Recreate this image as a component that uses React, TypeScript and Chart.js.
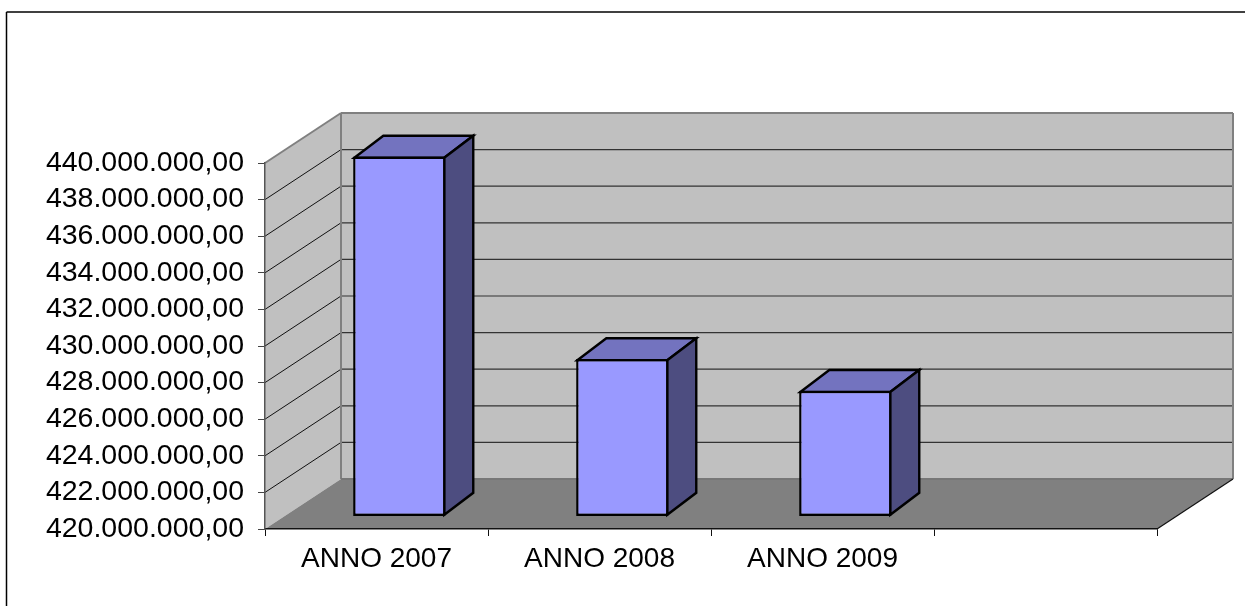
import React, { useEffect, useRef } from "react";
import { Chart, registerables } from "chart.js";

Chart.register(...registerables);

const categories = ["ANNO 2007", "ANNO 2008", "ANNO 2009", ""];
const seriesValues = [439670000, 428600000, 426870000, null];
const yMin = 420000000;
const yMax = 440000000;
const yStep = 2000000;

const WALL_DX = 76;
const WALL_DY = 50;
const BAR_SHIFT_X = 22.8;
const BAR_SHIFT_Y = 12.5;
const BAR_DX = 29;
const BAR_DY = 22;
const BAR_LINE = 2.4;

const formatEuro = (v: number) => {
  const [intPart, dec] = v.toFixed(2).split(".");
  return intPart.replace(/\B(?=(\d{3})+(?!\d))/g, ".") + "," + dec;
};

const poly = (ctx: CanvasRenderingContext2D, pts: number[][], fill?: string, stroke?: string, lw = 1) => {
  ctx.beginPath();
  pts.forEach(([x, y], i) => (i ? ctx.lineTo(x, y) : ctx.moveTo(x, y)));
  ctx.closePath();
  if (fill) {
    ctx.fillStyle = fill;
    ctx.fill();
  }
  if (stroke) {
    ctx.strokeStyle = stroke;
    ctx.lineWidth = lw;
    ctx.lineJoin = "miter";
    ctx.stroke();
  }
};

const line = (ctx: CanvasRenderingContext2D, x1: number, y1: number, x2: number, y2: number, c: string, lw = 1) => {
  ctx.beginPath();
  ctx.moveTo(x1, y1);
  ctx.lineTo(x2, y2);
  ctx.strokeStyle = c;
  ctx.lineWidth = lw;
  ctx.stroke();
};

const scene3d = {
  id: "scene3d",
  beforeDraw(chart: any) {
    const { ctx, chartArea: a, scales } = chart;
    const { left: l, right: r, top: t, bottom: b } = a;
    ctx.save();
    // outer frame: only top and left edges fall inside the picture
    line(ctx, 6.5, 12, 1245, 12, "#000", 1.5);
    line(ctx, 6.5, 12, 6.5, 606, "#000", 1.5);
    // walls and floor
    poly(ctx, [[l, t], [l + WALL_DX, t - WALL_DY], [l + WALL_DX, b - WALL_DY], [l, b]], "#C0C0C0");
    poly(ctx, [[l + WALL_DX, t - WALL_DY], [r + WALL_DX, t - WALL_DY], [r + WALL_DX, b - WALL_DY], [l + WALL_DX, b - WALL_DY]], "#C0C0C0");
    poly(ctx, [[l, b], [l + WALL_DX, b - WALL_DY], [r + WALL_DX, b - WALL_DY], [r, b]], "#808080");
    // grid lines on the walls
    scales.y.ticks.forEach((tick: any) => {
      if (tick.value === yMin || tick.value === yMax) return;
      const y = scales.y.getPixelForValue(tick.value);
      line(ctx, l, y, l + WALL_DX, y - WALL_DY, "#111", 1);
      line(ctx, l + WALL_DX, y - WALL_DY, r + WALL_DX, y - WALL_DY, "#333", 1.2);
    });
    // wall edges
    line(ctx, l, t, l + WALL_DX, t - WALL_DY, "#808080", 2);
    line(ctx, l + WALL_DX, t - WALL_DY, r + WALL_DX, t - WALL_DY, "#808080", 2);
    line(ctx, l + WALL_DX, t - WALL_DY, l + WALL_DX, b - WALL_DY, "#808080", 2);
    line(ctx, r + WALL_DX, t - WALL_DY, r + WALL_DX, b - WALL_DY, "#808080", 2);
    line(ctx, l + WALL_DX, b - WALL_DY, r + WALL_DX, b - WALL_DY, "#777", 2);
    line(ctx, r, b, r + WALL_DX, b - WALL_DY, "#111", 1.2);
    ctx.restore();
  },
  beforeDatasetDraw(chart: any) {
    const { ctx } = chart;
    ctx.save();
    ctx.translate(BAR_SHIFT_X, -BAR_SHIFT_Y);
    // top and side of each bar go behind its front face
    chart.getDatasetMeta(0).data.forEach((bar: any, i: number) => {
      if (seriesValues[i] == null) return;
      const p = bar.getProps(["x", "y", "base", "width"], true);
      const inset = BAR_LINE / 2;
      const x0 = p.x - p.width / 2 + inset;
      const x1 = p.x + p.width / 2 - inset;
      const top = p.y + inset;
      const bottom = p.base - inset;
      poly(ctx, [[x0, top], [x0 + BAR_DX, top - BAR_DY], [x1 + BAR_DX, top - BAR_DY], [x1, top]], "#7373BF", "#000", BAR_LINE);
      poly(ctx, [[x1, top], [x1 + BAR_DX, top - BAR_DY], [x1 + BAR_DX, bottom - BAR_DY], [x1, bottom]], "#4D4D80", "#000", BAR_LINE);
    });
  },
  afterDatasetDraw(chart: any) {
    chart.ctx.restore();
  },
};

export default function App() {
  const ref = useRef<HTMLCanvasElement>(null);
  useEffect(() => {
    const chart = new Chart(ref.current as HTMLCanvasElement, {
      type: "bar",
      data: {
        labels: categories,
        datasets: [
          {
            data: seriesValues as number[],
            base: yMin,
            clip: false,
            backgroundColor: "#9999FF",
            borderColor: "#000",
            borderWidth: BAR_LINE,
            borderSkipped: false,
            barPercentage: 0.414,
            categoryPercentage: 1,
          },
        ],
      },
      plugins: [scene3d],
      options: {
        responsive: false,
        animation: false,
        layout: { padding: { top: 163, right: 88, bottom: 0, left: 0 } },
        plugins: { legend: { display: false }, title: { display: false }, tooltip: { enabled: false } },
        scales: {
          x: {
            grid: { drawOnChartArea: false, drawTicks: true, tickLength: 7, color: "#111", lineWidth: 1 },
            border: { display: true, color: "#111", width: 1.5 },
            ticks: {
              color: "#000",
              font: { family: "'Liberation Sans'", size: 28 },
              maxRotation: 0,
              autoSkip: false,
              padding: 6,
            },
            afterFit(scale: any) {
              scale.height = 77;
            },
          },
          y: {
            min: yMin,
            max: yMax,
            grid: { drawOnChartArea: false, drawTicks: true, tickLength: 7, color: "#444", lineWidth: 1 },
            border: { display: true, color: "#555", width: 1.5 },
            ticks: {
              stepSize: yStep,
              autoSkip: false,
              color: "#000",
              font: { family: "'Liberation Sans'", size: 28.5 },
              padding: 14,
              callback: (v: any) => formatEuro(Number(v)),
            },
            afterFit(scale: any) {
              scale.width = 265;
            },
          },
        },
      },
    });
    return () => chart.destroy();
  }, []);
  return (
    <div style={{ position: "fixed", left: 0, top: 0, width: 1245, height: 606, background: "#fff" }}>
      <canvas ref={ref} width={1245} height={606} style={{ display: "block" }} />
    </div>
  );
}
